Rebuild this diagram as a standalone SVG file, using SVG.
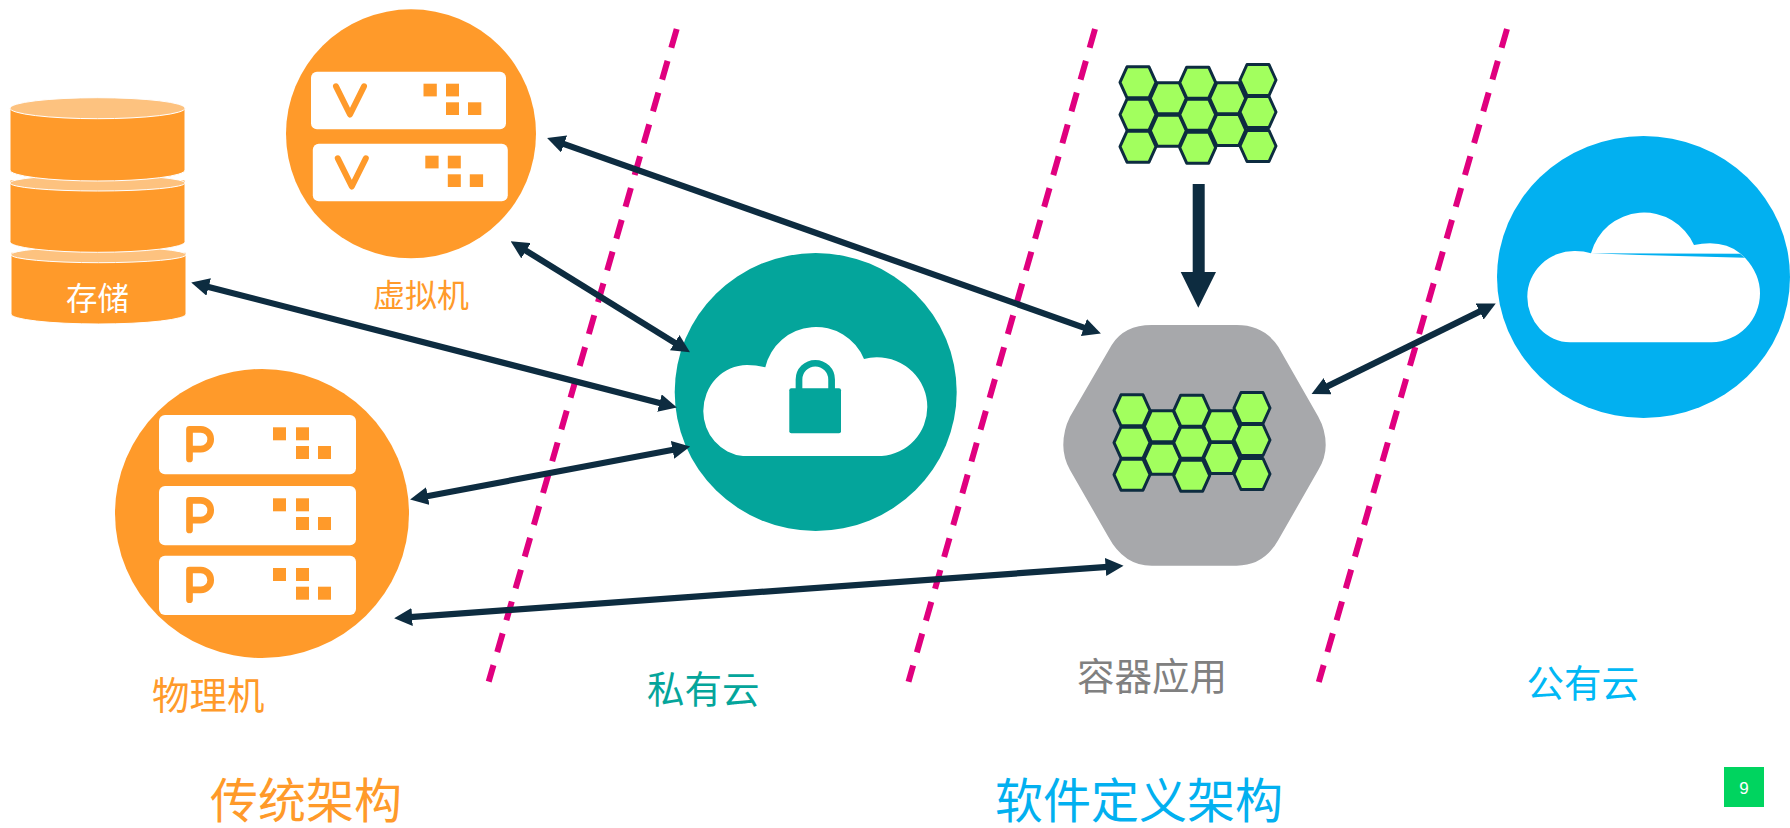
<svg xmlns="http://www.w3.org/2000/svg" xmlns:xlink="http://www.w3.org/1999/xlink" width="1790" height="828" viewBox="0 0 1790 828">
<style>
text{font-family:"Noto Sans CJK SC","Noto Sans",sans-serif;}
text.t{font-family:"Liberation Sans","Noto Sans CJK SC",sans-serif;}
.o{fill:#ff9a2a}
.w{fill:#fff}
.cyl{fill:#ff9a2a;stroke:#fff;stroke-width:1}
.top{fill:#fdc27f;stroke:#fff;stroke-width:1}
.hex{fill:#a2ff5e;stroke:#0d2c40;stroke-width:3;stroke-linejoin:round}
.glyph{fill:none;stroke:#ff9a2a;stroke-width:6.7;stroke-linecap:round;stroke-linejoin:round}
.div{fill:none;stroke:#e0007f;stroke-width:6;stroke-dasharray:19.5 13.6}
.arr{fill:none;stroke:#0d2c40;stroke-width:6.2;marker-start:url(#head);marker-end:url(#head)}
</style>
<defs>
<marker id="head" markerUnits="userSpaceOnUse" markerWidth="18" markerHeight="18" viewBox="0 0 17 17" refX="2" refY="8.5" orient="auto-start-reverse"><path d="M0,0 L17,8.5 L0,17 Z" fill="#0d2c40"/></marker>
<path id="h" class="hex" d="M-18,0 L-11,-15.5 L11,-15.5 L18,0 L11,15.5 L-11,15.5 Z"/>
<g id="grid">
<use href="#h" x="1168.3" y="98.3"/><use href="#h" x="1168.3" y="130.7"/>
<use href="#h" x="1227.7" y="98.3"/><use href="#h" x="1227.7" y="130"/>
<use href="#h" x="1138" y="82.3"/><use href="#h" x="1138" y="114.7"/><use href="#h" x="1138" y="146.7"/>
<use href="#h" x="1197.7" y="82.7"/><use href="#h" x="1197.7" y="114.7"/><use href="#h" x="1197.7" y="147.7"/>
<use href="#h" x="1258" y="80"/><use href="#h" x="1258" y="112"/><use href="#h" x="1258" y="146"/>
</g>
<g id="vunit">
<rect class="w" x="311" y="71.7" width="195" height="57.6" rx="6"/>
<path class="glyph" d="M336,86.3 L350,114.5 L364,86.3" style="stroke-width:6"/>
<rect class="o" x="423.5" y="83.7" width="13.3" height="12.7"/><rect class="o" x="446" y="83.7" width="13" height="12.7"/>
<rect class="o" x="446" y="102.3" width="13" height="12.7"/><rect class="o" x="468" y="102.3" width="13.3" height="12.7"/>
</g>
<g id="punit">
<rect class="w" x="159" y="415" width="197" height="59.3" rx="6"/>
<path class="glyph" d="M189.5,459 V429.3 H200.8 A9.9,9.9 0 0 1 200.8,449.1 H189.5"/>
<rect class="o" x="273" y="427.3" width="13" height="13"/><rect class="o" x="296" y="427.3" width="13" height="13"/>
<rect class="o" x="296" y="446" width="13" height="13"/><rect class="o" x="318" y="446" width="13" height="13"/>
</g>
</defs>
<rect width="1790" height="828" fill="#fff"/>
<g id="dividers">
<path class="div" d="M676.7,29 L488.7,681.7"/>
<path class="div" d="M1095,29 L908.5,681.7"/>
<path class="div" d="M1507,29 L1318.8,682"/>
</g>
<g id="storage">
<path class="cyl" d="M11,252.3 V314 A87.5,10 0 0 0 186,314 V252.3 Z"/>
<ellipse class="top" cx="98.5" cy="254.7" rx="87.5" ry="8"/>
<path class="cyl" d="M10,180 V241.7 A87.5,10.6 0 0 0 185,241.7 V180 Z"/>
<ellipse class="top" cx="97.5" cy="183" rx="87.5" ry="8"/>
<path class="cyl" d="M10,108 V170 A87.5,11 0 0 0 185,170 V108 Z"/>
<ellipse class="top" cx="97.5" cy="108.2" rx="87.5" ry="10.5"/>
<text x="66" y="310" font-size="31.5" fill="#fff">存储</text>
</g>
<g id="vm">
<ellipse class="o" cx="411" cy="133.8" rx="125" ry="124.5"/>
<use href="#vunit"/><use href="#vunit" x="1.8" y="72"/>
<text x="373" y="307" font-size="32" fill="#ff9a2a">虚拟机</text>
</g>
<g id="physical">
<ellipse class="o" cx="262" cy="513.5" rx="147" ry="144.5"/>
<use href="#punit"/><use href="#punit" y="71"/><use href="#punit" y="140.7"/>
<text x="152" y="708.5" font-size="37.5" fill="#ff9a2a">物理机</text>
</g>
<g id="private-cloud">
<ellipse cx="815.7" cy="392" rx="141" ry="139" fill="#04a59b"/>
<path class="w" d="M743,456 A44,45 0 0 1 703.3,411 A44,46 0 0 1 747,365 Q757,365 765.3,367.3 A52,52 0 0 1 864,359 Q870,357.3 876.7,357.3 A50.5,49.5 0 0 1 927.3,407 A49,49 0 0 1 881.7,456 Z"/>
<rect x="789.3" y="388.3" width="51.7" height="45" rx="2" fill="#04a59b"/>
<path d="M799,392 V379.5 A16.3,16.3 0 0 1 831.6,379.5 V392" fill="none" stroke="#04a59b" stroke-width="6.7"/>
<text x="647" y="703" font-size="37.5" fill="#04a59b">私有云</text>
</g>
<g id="container-app">
<path d="M1151.7,325 H1236.7 Q1264,325 1278.3,346.7 L1318.3,416.7 Q1325.7,430 1325.7,445 Q1325.7,458 1318.3,470 L1278.3,540 Q1264,565.7 1236.7,565.7 H1151.7 Q1124,565.7 1108.3,536.7 L1070,470 Q1063.3,458 1063.3,445 Q1063.3,430 1070,416.7 L1111.7,345 Q1124,325 1151.7,325 Z" fill="#a7a8ab"/>
<use href="#grid" x="-6" y="328"/>
<text x="1077" y="690" font-size="37.5" fill="#808080">容器应用</text>
</g>
<g id="containers">
<use href="#grid"/>
</g>
<g id="public-cloud">
<ellipse cx="1643.5" cy="277" rx="146.5" ry="141" fill="#02b0f0"/>
<path class="w" d="M1570,342.3 A43,45.7 0 0 1 1527.3,296.7 A47,45.7 0 0 1 1575,251 Q1584,251 1591,253.3 A54.8,54.8 0 0 1 1694,245 Q1702,243.3 1710,243.3 Q1728,243.3 1740,253.3 L1745,257.7 Q1760,274 1760,293.3 A49,49 0 0 1 1711.7,342.3 Z"/>
<polygon points="1591,253.3 1740,253.8 1745,257.7 1640,255" fill="#02b0f0"/>
<text x="1526.5" y="697" font-size="37.5" fill="#00b8f5">公有云</text>
</g>
<g id="connectors">
<path class="arr" d="M562.1,143.3 L1085.9,328.3"/>
<path class="arr" d="M524.2,249.6 L676.5,343.8"/>
<path class="arr" d="M206.6,286.4 L661.5,403.6"/>
<path class="arr" d="M425.7,496.5 L674.6,449.5"/>
<path class="arr" d="M410,617.2 L1107.7,566.8"/>
<path class="arr" d="M1325.8,387.1 L1481.5,310.6"/>
<polygon points="1192.7,184 1204.7,184 1204.7,272 1216,272 1198.3,307.7 1180.7,272 1192.7,272" fill="#0d2c40"/>
</g>
<g id="titles">
<text class="t" x="210" y="817.5" font-size="48" fill="#ff9a2a">传统架构</text>
<text class="t" x="995" y="817.5" font-size="48" fill="#02b0f0">软件定义架构</text>
</g>
<g id="page">
<rect x="1724" y="767" width="40" height="40" fill="#00d45f"/>
<text x="1744" y="794" font-size="17" fill="#fff" text-anchor="middle" style="font-family:'Liberation Sans',sans-serif">9</text>
</g>
</svg>
